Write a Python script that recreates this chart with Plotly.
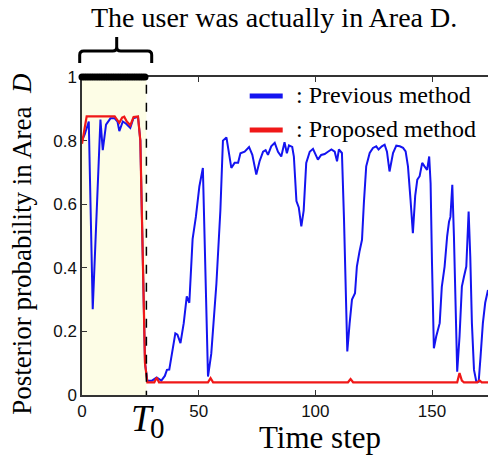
import plotly.graph_objects as go

# ---- data ----
T0 = 27.6
truth_t = [0, 1, 2, 3, 4, 5, 6, 7, 8, 9, 10, 11, 12, 13, 14, 15, 16, 17, 18, 19, 20, 21, 22, 23, 24, 25, 26, 27]
truth_val = [1] * len(truth_t)

prev_t = [0, 1.2, 2.9, 4.6, 7.9, 8.9, 10.3, 12.2, 14.0, 15.2, 16.0, 17.5, 18.9, 20.7, 22.0, 24.0, 25.0, 26.0, 27.0, 28.0,
          30.0, 32.0, 34.0, 35.5, 36.4, 37.4, 38.9, 40.0, 40.9, 42.2, 43.6, 44.9, 46.0, 47.4, 48.8, 50.3, 51.8,
          54.0, 55.4, 57.6, 59.3, 60.4, 61.9, 64.0, 65.4, 66.9, 67.9, 69.7, 71.6, 73.0, 74.7, 76.1, 77.6, 78.7,
          79.7, 81.1, 82.6, 84.0, 85.4, 86.8, 87.8, 88.7, 90.1, 90.8, 91.9, 92.9, 94.0, 95.0, 96.1, 97.6, 99.0,
          100.1, 101.1, 102.5, 104.0, 105.4, 106.9, 108.3, 109.3, 110.1, 111.4, 112.3, 113.0, 113.7, 114.7, 115.7,
          117.0, 117.8, 118.9, 120.0, 120.8, 121.8, 123.3, 124.7, 126.1, 127.1, 128.5, 129.7, 130.7, 131.8, 133.3,
          134.7, 136.2, 137.6, 138.7, 139.7, 140.8, 141.8, 142.8, 143.7, 144.7, 145.8, 146.8, 147.9, 148.8, 149.4,
          150.0, 150.8, 151.8, 153.3, 154.2, 155.4, 156.5, 157.3, 157.9, 158.7, 159.4, 160.0, 160.8, 161.8, 162.8,
          163.7, 164.7, 165.7, 166.4, 167.1, 168.0, 169.0, 170.0, 170.8, 171.8, 172.8, 174.0]
prev_p = [0.80, 0.82, 0.86, 0.27, 0.866, 0.77, 0.85, 0.87, 0.87, 0.86, 0.83, 0.86, 0.853, 0.84, 0.87, 0.875, 0.80, 0.45, 0.10, 0.045,
          0.045, 0.055, 0.045, 0.06, 0.079, 0.08, 0.152, 0.194, 0.19, 0.163, 0.226, 0.31, 0.29, 0.49, 0.56, 0.656, 0.714,
          0.058, 0.13, 0.35, 0.58, 0.80, 0.81, 0.714, 0.73, 0.73, 0.76, 0.765, 0.78, 0.755, 0.693, 0.735, 0.765, 0.77,
          0.755, 0.782, 0.793, 0.765, 0.75, 0.795, 0.76, 0.785, 0.78, 0.75, 0.61, 0.59, 0.53, 0.58, 0.73, 0.765, 0.774,
          0.755, 0.74, 0.755, 0.758, 0.765, 0.772, 0.765, 0.735, 0.772, 0.761, 0.55, 0.29, 0.137, 0.226, 0.30,
          0.32, 0.404, 0.45, 0.488, 0.604, 0.719, 0.761, 0.777, 0.782, 0.772, 0.782, 0.787, 0.765, 0.703, 0.761,
          0.784, 0.782, 0.777, 0.766, 0.719, 0.614, 0.509, 0.626, 0.677, 0.688, 0.73, 0.719, 0.708, 0.75, 0.666,
          0.415, 0.147, 0.184, 0.226, 0.34, 0.404, 0.50, 0.545, 0.56, 0.661, 0.50, 0.29, 0.073, 0.184, 0.341,
          0.372, 0.404, 0.577, 0.436, 0.226, 0.079, 0.042, 0.042, 0.12, 0.226, 0.29, 0.33]

prop_t = [0, 1, 2, 14, 16.0, 17.2, 18.1, 19.2, 20.7, 22.1, 24.0, 25.0, 26.0, 27.0, 28.0,
          31.0, 32.0, 33.0, 54.0, 55.1, 56.2, 114.0, 115.1, 116.2, 160.8, 161.8, 162.8, 163.7,
          169.5, 170.4, 171.3, 174.0]
prop_p = [0.79, 0.83, 0.876, 0.876, 0.856, 0.872, 0.875, 0.86, 0.848, 0.874, 0.876, 0.80, 0.45, 0.10, 0.04,
          0.04, 0.055, 0.04, 0.04, 0.053, 0.04, 0.04, 0.05, 0.04, 0.04, 0.069, 0.045, 0.04,
          0.04, 0.046, 0.04, 0.04]

x_ticks = [0, 50, 100, 150]
y_ticks = [0, 0.2, 0.4, 0.6, 0.8, 1]
y_ticktext = ["0", "0.2", "0.4", "0.6", "0.8", "1"]

BLUE = "#1414f0"
RED = "#f01818"
SERIF = "Liberation Serif"
SANS = "Liberation Sans"

fig = go.Figure()
fig.add_trace(go.Scatter(x=prev_t, y=prev_p, mode="lines",
                         line=dict(color=BLUE, width=2), showlegend=False))
fig.add_trace(go.Scatter(x=prop_t, y=prop_p, mode="lines",
                         line=dict(color=RED, width=2.2), showlegend=False))
fig.add_trace(go.Scatter(x=truth_t, y=truth_val, mode="markers",
                         marker=dict(color="black", size=7, line=dict(width=0)),
                         showlegend=False, cliponaxis=False))

# shaded region and T0 line
fig.add_shape(type="rect", xref="x", yref="y", x0=0, x1=T0, y0=0, y1=1,
              fillcolor="#fdfde6", line=dict(width=0), layer="below")
fig.add_shape(type="line", xref="x", yref="y", x0=T0, x1=T0, y0=-0.015, y1=1,
              line=dict(color="black", width=1.5, dash="dash"))

# brace above the shaded region (paper coords)
def px2x(px):
    return (px - 82.3) / 406.0


def py2y(py):
    return (395.0 - py) / 318.0


xl, xm, xr = px2x(80), px2x(117), px2x(152)
yb, yh, yt = py2y(63), py2y(51), py2y(37)
rx = 4 / 406.0
ry = 4 / 318.0
path = (f"M {xl},{yb} L {xl},{yh - ry} Q {xl},{yh} {xl + rx},{yh} "
        f"L {xm - rx},{yh} Q {xm},{yh} {xm},{yh + ry} L {xm},{yt} "
        f"M {xm},{yh + ry} Q {xm},{yh} {xm + rx},{yh} L {xr - rx},{yh} "
        f"Q {xr},{yh} {xr},{yh - ry} L {xr},{yb}")
fig.add_shape(type="path", xref="paper", yref="paper", path=path,
              line=dict(color="black", width=3))

# custom legend
for py, col, txt in [(96, BLUE, ": Previous method"), (130, RED, ": Proposed method")]:
    fig.add_shape(type="line", xref="paper", yref="paper",
                  x0=px2x(250), x1=px2x(283), y0=py2y(py), y1=py2y(py),
                  line=dict(color=col, width=5))
    fig.add_annotation(xref="paper", yref="paper", x=px2x(294), y=py2y(py - 1),
                       text=txt, showarrow=False, xanchor="left", yanchor="middle",
                       font=dict(family=SERIF, size=24, color="black"))

# title
fig.add_annotation(xref="paper", yref="paper", x=px2x(274), y=py2y(18),
                   text="The user was actually in Area D.", showarrow=False,
                   xanchor="center", yanchor="middle",
                   font=dict(family=SERIF, size=28, color="black"))
# axis labels
fig.add_annotation(xref="paper", yref="paper", x=px2x(22), y=py2y(244),
                   text="Posterior probability in Area  <i>D</i>", showarrow=False,
                   textangle=-90, xanchor="center", yanchor="middle",
                   font=dict(family=SERIF, size=27, color="black"))
fig.add_annotation(xref="paper", yref="paper", x=px2x(320), y=py2y(437),
                   text="Time step", showarrow=False, xanchor="center", yanchor="middle",
                   font=dict(family=SERIF, size=31, color="black"))
fig.add_annotation(xref="paper", yref="paper", x=px2x(143), y=py2y(418),
                   text="<i>T</i>", showarrow=False, xanchor="center", yanchor="middle",
                   font=dict(family=SERIF, size=37, color="black"))
fig.add_annotation(xref="paper", yref="paper", x=px2x(158), y=py2y(428),
                   text="0", showarrow=False, xanchor="center", yanchor="middle",
                   font=dict(family=SERIF, size=29, color="black"))

fig.update_layout(
    width=488, height=462,
    margin=dict(l=82, r=0, t=77, b=67),
    paper_bgcolor="white", plot_bgcolor="white",
    xaxis=dict(range=[0, 174], tickvals=x_ticks, ticks="inside", ticklen=5,
               showline=True, linecolor="#333", linewidth=1.5, mirror="ticks",
               showgrid=False, zeroline=False, tickcolor="#333", layer="below traces",
               tickfont=dict(family=SANS, size=17, color="#111")),
    yaxis=dict(range=[0, 1], tickvals=y_ticks, ticktext=y_ticktext, ticks="inside", ticklen=5,
               showline=True, linecolor="#333", linewidth=1.5,
               showgrid=False, zeroline=False, tickcolor="#333", layer="below traces",
               tickfont=dict(family=SANS, size=17, color="#111")),
)

fig.write_html("out.html")
